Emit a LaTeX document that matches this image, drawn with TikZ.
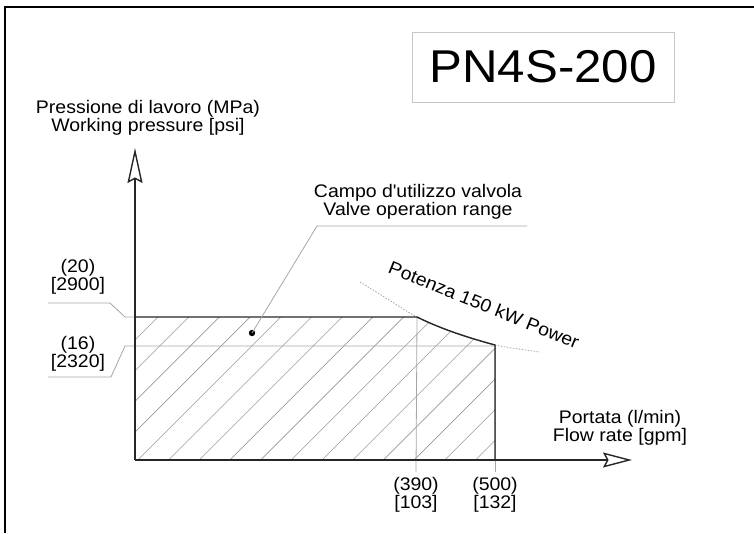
\documentclass[tikz,border=0pt]{standalone}
\usepackage{fontspec}
\setmainfont[FakeStretch=1.07]{Liberation Sans}
\usetikzlibrary{arrows.meta}
\tikzset{
  axis/.style={line width=1.4pt, black!85},
  thin gray/.style={line width=0.8pt, gray!70},
  hatchline/.style={line width=0.6pt, gray!80},
  lbl/.style={font=\fontsize{18.2}{16.8}\selectfont, align=center, inner sep=0pt},
  openarrow/.style={-{Stealth[open, fill=white, length=#1, width=15pt, inset=4pt]}},
}
\begin{document}
\begin{tikzpicture}[x=1pt, y=-1pt]
\useasboundingbox (0,0) rectangle (754,533);
% outer frame
\draw[line width=2.2pt] (5,533) -- (5,7) -- (754,7);

% title box
\node[draw=gray!45, line width=0.8pt, minimum width=262pt, minimum height=70pt,
      font=\fontsize{46}{46}\selectfont, inner sep=0pt] (title) at (543,67) {PN4S-200};

% key points
\coordinate (O) at (135,460);
\coordinate (A) at (417,317);
\coordinate (B) at (495,345);
\coordinate (Ybot) at (135,317);
\coordinate (Bbot) at (495,460);

% hatch
\begin{scope}
  \clip (Ybot) -- (A) .. controls (443,330) and (473,339) .. (B) -- (Bbot) -- (O) -- cycle;
  \foreach \n in {-1,...,17} {
    \pgfmathsetmacro{\c}{475+30.7*\n}
    \draw[hatchline] (\c-500,500) -- (\c,0);
  }
\end{scope}

% power curve dotted
\draw[gray!70, line width=0.8pt, dash pattern=on 1.5pt off 1.5pt]
  plot[smooth] coordinates {(360,282) (390,300.5) (417,317) (455,333) (495,345) (540,352)};

% gray guide lines
\coordinate (t20a) at (48,303);
\coordinate (t20b) at (110,303);
\coordinate (t20c) at (125,317);
\coordinate (t16a) at (48,377);
\coordinate (t16b) at (111,377);
\coordinate (t16c) at (125,346);
\coordinate (g390) at (416,472);
\coordinate (g500) at (495,472);
\draw[thin gray] (t20a) -- (t20b) -- (t20c) -- (Ybot);
\draw[thin gray] (t16a) -- (t16b) -- (t16c) -- (B |- t16c);
\draw[thin gray] (A) -- (g390);
\draw[thin gray] (B) -- (g500);

% range boundary
\draw[axis, line cap=butt] (Ybot) -- (A) .. controls (443,330) and (473,339) .. (B) -- (Bbot);

% axes
\coordinate (ytip) at (135,148);
\coordinate (xtip) at (632,460);
\draw[axis, openarrow=35pt] (O) -- (ytip);
\draw[axis, openarrow=29pt] (O) -- (xtip);

% labels
\node[lbl] (ylab) at (148,118) {Pressione di lavoro (MPa)\\Working pressure [psi]};
\node[lbl] (xlab) at (620,428) {Portata (l/min)\\Flow rate [gpm]};
\node[lbl] (l20) at (78,277) {(20)\\{[2900]}};
\node[lbl] (l16) at (78,354) {(16)\\{[2320]}};
\node[lbl] (l390) at (416,495) {(390)\\{[103]}};
\node[lbl] (l500) at (495,495) {(500)\\{[132]}};

% operation range callout
\node[lbl] (range) at (418,202) {Campo d\textquotesingle utilizzo valvola\\Valve operation range};
\coordinate (rl) at (317,226);
\coordinate (rr) at (527,226);
\fill (252,333) circle (3.2pt) coordinate (dot);
\draw[thin gray] (rr) -- (rl) -- (dot);

% power label
\node[lbl, rotate=-22] (power) at (484,305) {Potenza 150 kW Power};
\end{tikzpicture}
\end{document}
